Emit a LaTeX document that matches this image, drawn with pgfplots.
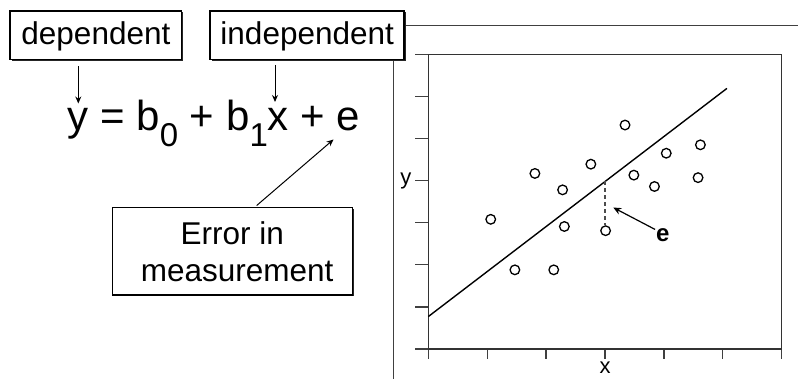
\documentclass[border=0pt]{standalone}
\usepackage{fontspec}
\setmainfont{Liberation Sans}
\usepackage{pgfplots}
\pgfplotsset{compat=1.18}
\usetikzlibrary{arrows.meta}
\begin{document}
\begin{tikzpicture}
\path[use as bounding box] (0,0) rectangle (798pt,379pt);
\begin{scope}[x=1pt,y=-1pt,shift={(0pt,379pt)}]
  % slide frame
  \draw[line width=1.1pt, black!75] (798,25.7) -- (393.3,25.7) -- (393.3,381);
  % dependent box
  \fill[black!85] (11.5,12.5) rectangle (183.2,60.8);
  \draw[line width=1.1pt, fill=white] (10,11) rectangle (181.7,59.3);
  \node[anchor=base, font=\fontsize{31.5}{31.5}\selectfont, inner sep=0pt] at (95.9,45) {dependent};
  % independent box
  \fill[black!85] (211.5,12.5) rectangle (405.5,60.8);
  \draw[line width=1.1pt, fill=white] (210,11) rectangle (404,59.3);
  \node[anchor=base, font=\fontsize{31.5}{31.5}\selectfont, inner sep=0pt] at (307.2,45) {independent};
  % arrows
  \draw[line width=1pt, -{Stealth[length=7pt,width=6pt]}] (78.3,66.5) -- (78.3,103.5);
  \draw[line width=1pt, -{Stealth[length=7pt,width=6pt]}] (275,65) -- (275,102);
  % equation
  \node[anchor=base west, font=\fontsize{42}{42}\selectfont, inner sep=0pt] at (67.5,131)
    {y = b\raisebox{-15.5pt}{\fontsize{33}{33}\selectfont 0} + b\raisebox{-15.5pt}{\fontsize{33}{33}\selectfont 1}x + e};
  % error box
  \fill[black!85] (114.2,209.2) rectangle (353.8,296.5);
  \draw[line width=1.1pt, fill=white] (112.7,207.7) rectangle (352.3,295);
  \node[anchor=base, font=\fontsize{31.5}{31.5}\selectfont, inner sep=0pt] at (232.3,244.3) {Error in};
  \node[anchor=base, font=\fontsize{31.5}{31.5}\selectfont, inner sep=0pt] at (237.2,281.7) {measurement};
  \draw[line width=1pt, -{Stealth[length=7pt,width=6pt]}] (256.7,205.5) -- (333.5,139.5);
\end{scope}
\begin{axis}[
  at={(428.3pt,30pt)}, anchor=south west,
  scale only axis, width=353.4pt, height=294.7pt,
  xmin=0, xmax=6, ymin=0, ymax=7,
  xtick={0,1,2,3,4,5,6}, ytick={0,1,2,3,4,5,6,7},
  xticklabels={,,,x,,,}, yticklabels={,,,,y,,,},
  tick align=outside, tick pos=left,
  major tick length=13.3pt,
  x tick style={/pgfplots/major tick length=10pt},
  tick style={line width=1.3pt, black!75},
  axis line style={line width=1.4pt, black!80},
  ticklabel style={font=\fontsize{22}{22}\selectfont, text=black},
  xticklabel style={inner sep=1pt, outer sep=0pt, yshift=1pt},
  clip=false,
]
\addplot[only marks, mark=o, mark size=4.8pt, mark options={line width=1.3pt, black}] coordinates {
  (1.06,3.08) (1.47,1.88) (1.81,4.17) (2.13,1.88) (2.28,3.78) (2.31,2.91) (2.76,4.39)
  (3.01,2.81) (3.34,5.32) (3.49,4.13) (3.84,3.86) (4.04,4.65) (4.58,4.07) (4.62,4.85)
};
\addplot[black, line width=1.4pt] coordinates {(0,0.77) (5.07,6.19)};
\addplot[black!70, line width=1.3pt, dash pattern=on 4pt off 3pt] coordinates {(3.0,3.98) (3.0,2.95)};
\draw[line width=1.2pt, -{Stealth[length=8pt,width=7pt]}] (axis cs:3.85,2.84) -- (axis cs:3.14,3.36);
\node[font=\bfseries\fontsize{24}{24}\selectfont, inner sep=0pt] at (axis cs:3.98,2.70) {e};
\end{axis}
\end{tikzpicture}
\end{document}
